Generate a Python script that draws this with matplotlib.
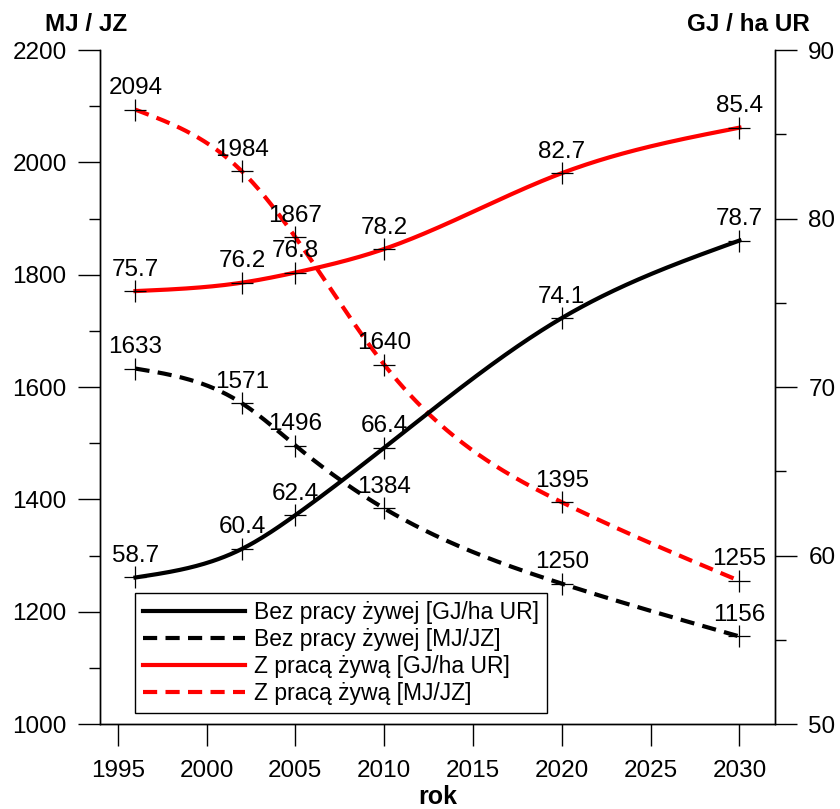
import numpy as np
import matplotlib.pyplot as plt
from matplotlib.lines import Line2D

plt.rcParams['font.family'] = ['Liberation Sans', 'DejaVu Sans']

years = [1996, 2002, 2005, 2010, 2020, 2030]
bez_gj = [58.7, 60.4, 62.4, 66.4, 74.1, 78.7]
bez_mj = [1633, 1571, 1496, 1384, 1250, 1156]
z_gj = [75.7, 76.2, 76.8, 78.2, 82.7, 85.4]
z_mj = [2094, 1984, 1867, 1640, 1395, 1255]

labels = ['Bez pracy żywej [GJ/ha UR]', 'Bez pracy żywej [MJ/JZ]',
          'Z pracą żywą [GJ/ha UR]', 'Z pracą żywą [MJ/JZ]']


def natural_spline(x, y, n=300):
    # natural cubic spline through the points, used only to draw smooth lines
    x = np.asarray(x, float)
    y = np.asarray(y, float)
    k = len(x)
    h = np.diff(x)
    A = np.zeros((k, k))
    b = np.zeros(k)
    A[0, 0] = A[-1, -1] = 1
    for i in range(1, k - 1):
        A[i, i - 1] = h[i - 1]
        A[i, i] = 2 * (h[i - 1] + h[i])
        A[i, i + 1] = h[i]
        b[i] = 3 * ((y[i + 1] - y[i]) / h[i] - (y[i] - y[i - 1]) / h[i - 1])
    c = np.linalg.solve(A, b)
    xs = np.linspace(x[0], x[-1], n)
    idx = np.clip(np.searchsorted(x, xs) - 1, 0, k - 2)
    dx = xs - x[idx]
    hi = h[idx]
    bb = (y[idx + 1] - y[idx]) / hi - hi * (2 * c[idx] + c[idx + 1]) / 3
    dd = (c[idx + 1] - c[idx]) / (3 * hi)
    ys = y[idx] + bb * dx + c[idx] * dx ** 2 + dd * dx ** 3
    return xs, ys


fig = plt.figure(figsize=(8.4, 8.09), dpi=100)
ax1 = fig.add_axes([0.119, 0.105, 0.8036, 0.833])
ax2 = ax1.twinx()

lw = 3.0
dash = (0, (3.4, 2.0))

series = [
    (ax2, bez_gj, 'black', '-', '{:.1f}'),
    (ax1, bez_mj, 'black', dash, '{:d}'),
    (ax2, z_gj, 'red', '-', '{:.1f}'),
    (ax1, z_mj, 'red', dash, '{:d}'),
]

for ax, vals, col, ls, fmt in series:
    xs, ys = natural_spline(years, vals)
    ax.plot(xs, ys, color=col, lw=lw, linestyle=ls, zorder=2)
    ax.plot(years, vals, linestyle='none', marker='+', ms=16, mew=0.9,
            color='black', zorder=3)
    for x, v in zip(years, vals):
        ax.annotate(fmt.format(v), (x, v), xytext=(0, 7.5),
                    textcoords='offset points', ha='center', va='bottom',
                    fontsize=17.5, zorder=4)

ax1.set_xlim(1994, 2032)
ax1.set_ylim(1000, 2200)
ax2.set_ylim(50, 90)

ax1.set_xticks(range(1995, 2031, 5))
ax1.set_yticks(range(1000, 2201, 200))
ax1.set_yticks(range(1100, 2200, 200), minor=True)
ax2.set_yticks(range(50, 91, 10))
ax2.set_yticks(range(55, 90, 10), minor=True)

for ax in (ax1, ax2):
    ax.spines['top'].set_visible(False)
    for s in ax.spines.values():
        s.set_linewidth(1.0)
    ax.tick_params(which='major', length=16, width=1.0, labelsize=17.5, pad=8)
    ax.tick_params(which='minor', length=8, width=1.0)
ax1.tick_params(axis='x', pad=10)

ax1.set_xlabel('rok', fontsize=18, fontweight='bold', labelpad=2)
fig.text(0.102, 0.984, 'MJ / JZ', fontsize=17.5, fontweight='bold',
         ha='center', va='top')
fig.text(0.891, 0.984, 'GJ / ha UR', fontsize=17.5, fontweight='bold',
         ha='center', va='top')

handles = [Line2D([], [], color=c, lw=lw, linestyle=ls)
           for _, _, c, ls, _ in series]
leg = ax2.legend(handles, labels, loc='lower left',
                 bbox_to_anchor=(0.052, 0.016), borderaxespad=0,
                 fontsize=16.5, frameon=True, fancybox=False, framealpha=1,
                 edgecolor='black', handlelength=4.45, handletextpad=0.4,
                 labelspacing=0.18, borderpad=0.35)
leg.get_frame().set_linewidth(1.0)
leg.set_zorder(10)

fig.savefig('out.png', dpi=100)
